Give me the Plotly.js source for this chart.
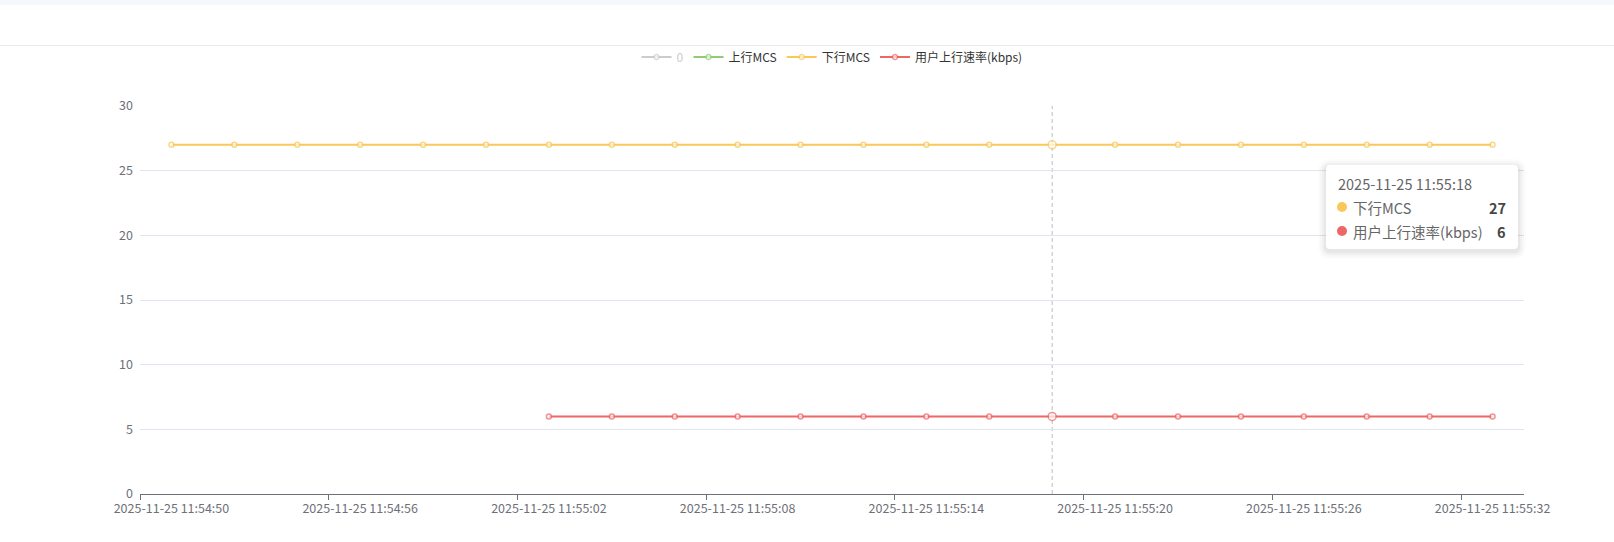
<!DOCTYPE html>
<html>
<head>
<meta charset="utf-8">
<script src="https://cdn.plot.ly/plotly-3.0.1.min.js"></script>
<style>
  html, body { margin: 0; padding: 0; background: #ffffff; }
  #wrap { position: relative; width: 1614px; height: 542px; overflow: hidden; }
  #chart { position: absolute; left: 0; top: 0; width: 1614px; height: 542px; }
  #topband { position: absolute; left: 0; top: 0; width: 1614px; height: 5px; background: #f5f9fd; pointer-events: none; }
  #sep { position: absolute; left: 0; top: 45px; width: 1614px; height: 1px; background: #ebebeb; pointer-events: none; }
</style>
</head>
<body>
<div id="wrap">
  <div id="chart"></div>
  <div id="topband"></div>
  <div id="sep"></div>
</div>
<script>
// ---- data ----
const categories = [
  '2025-11-25 11:54:50', '2025-11-25 11:54:52', '2025-11-25 11:54:54', '2025-11-25 11:54:56',
  '2025-11-25 11:54:58', '2025-11-25 11:55:00', '2025-11-25 11:55:02', '2025-11-25 11:55:04',
  '2025-11-25 11:55:06', '2025-11-25 11:55:08', '2025-11-25 11:55:10', '2025-11-25 11:55:12',
  '2025-11-25 11:55:14', '2025-11-25 11:55:16', '2025-11-25 11:55:18', '2025-11-25 11:55:20',
  '2025-11-25 11:55:22', '2025-11-25 11:55:24', '2025-11-25 11:55:26', '2025-11-25 11:55:28',
  '2025-11-25 11:55:30', '2025-11-25 11:55:32'
];
const seriesNames = ['0', '上行MCS', '下行MCS', '用户上行速率(kbps)'];
const zeroSeries = [null, null, null, null, null, null, null, null, null, null, null,
                    null, null, null, null, null, null, null, null, null, null, null];
const upMCS = [null, null, null, null, null, null, null, null, null, null, null,
               null, null, null, null, null, null, null, null, null, null, null];
const downMCS = [27, 27, 27, 27, 27, 27, 27, 27, 27, 27, 27,
                 27, 27, 27, 27, 27, 27, 27, 27, 27, 27, 27];
const upRate = [null, null, null, null, null, null, 6, 6, 6, 6, 6,
                6, 6, 6, 6, 6, 6, 6, 6, 6, 6, 6];
const yTicks = [0, 5, 10, 15, 20, 25, 30];
const hoverCategory = '2025-11-25 11:55:18';

// ---- style ----
const colors = ['#cccccc', '#91cc75', '#fac858', '#ee6666'];
const FONT = '"Microsoft YaHei", "Noto Sans CJK SC", "Noto Sans", sans-serif';
const W = 1614, H = 542;
const M = { l: 140, r: 90, t: 106, b: 48 };
const PW = W - M.l - M.r, PH = H - M.t - M.b;
const px2x = p => (p - M.l) / PW;
const py2y = p => (H - M.b - p) / PH;
const hoverIndex = categories.indexOf(hoverCategory);

function makeTrace(name, ys, color) {
  return {
    type: 'scatter', mode: 'lines+markers', name: name,
    x: categories, y: ys,
    line: { color: color, width: 2 },
    marker: {
      symbol: 'circle', color: '#ffffff',
      size: ys.map((v, i) => i === hoverIndex ? 8 : 5),
      line: { color: color, width: 1.5 }
    },
    connectgaps: false,
    hoverinfo: 'skip'
  };
}

const traces = [
  makeTrace('<span style="color:#cccccc">' + seriesNames[0] + '</span>', zeroSeries, colors[0]),
  makeTrace(seriesNames[1], upMCS, colors[1]),
  makeTrace(seriesNames[2], downMCS, colors[2]),
  makeTrace(seriesNames[3], upRate, colors[3])
];

// rounded rectangle path in paper coordinates (from pixel box)
function roundRect(l, t, r, b, rad) {
  const X = px2x, Y = py2y;
  return 'M ' + X(l + rad) + ' ' + Y(t) +
    ' L ' + X(r - rad) + ' ' + Y(t) +
    ' Q ' + X(r) + ' ' + Y(t) + ' ' + X(r) + ' ' + Y(t + rad) +
    ' L ' + X(r) + ' ' + Y(b - rad) +
    ' Q ' + X(r) + ' ' + Y(b) + ' ' + X(r - rad) + ' ' + Y(b) +
    ' L ' + X(l + rad) + ' ' + Y(b) +
    ' Q ' + X(l) + ' ' + Y(b) + ' ' + X(l) + ' ' + Y(b - rad) +
    ' L ' + X(l) + ' ' + Y(t + rad) +
    ' Q ' + X(l) + ' ' + Y(t) + ' ' + X(l + rad) + ' ' + Y(t) + ' Z';
}

// tooltip (static recreation of the hover box)
const tipL = 1326, tipR = 1518, tipT = 165, tipB = 249;
const shapes = [
  { type: 'line', xref: 'x', yref: 'paper', x0: hoverIndex, x1: hoverIndex, y0: 0, y1: 1,
    line: { color: '#bdbdbd', width: 1, dash: '4px,3px' }, layer: 'below' }
];
// soft shadow layers
[8, 6, 4, 2].forEach((d, k) => {
  shapes.push({ type: 'path', xref: 'paper', yref: 'paper',
    path: roundRect(tipL - d, tipT - d + 2, tipR + d, tipB + d + 2, 4 + d),
    fillcolor: 'rgba(0,0,0,' + (0.01 + k * 0.008) + ')', line: { width: 0 }, layer: 'above' });
});
shapes.push({ type: 'path', xref: 'paper', yref: 'paper',
  path: roundRect(tipL, tipT, tipR, tipB, 4),
  fillcolor: '#ffffff', line: { width: 0 }, layer: 'above' });

const rows = [
  { name: seriesNames[2], value: downMCS[hoverIndex], color: colors[2], y: 207 },
  { name: seriesNames[3], value: upRate[hoverIndex], color: colors[3], y: 231 }
];
const TIPFONT = 14.5;
const annotations = [
  { xref: 'paper', yref: 'paper', x: px2x(1336), y: py2y(183), xanchor: 'left', yanchor: 'middle',
    text: hoverCategory, showarrow: false, font: { family: FONT, size: TIPFONT, color: '#666666' } }
];
rows.forEach(r => {
  shapes.push({ type: 'circle', xref: 'paper', yref: 'paper', xsizemode: 'pixel', ysizemode: 'pixel',
    xanchor: px2x(1342), yanchor: py2y(r.y), x0: -5, x1: 5, y0: -5, y1: 5,
    fillcolor: r.color, line: { width: 0 }, layer: 'above' });
  annotations.push({ xref: 'paper', yref: 'paper', x: px2x(1351), y: py2y(r.y), xanchor: 'left', yanchor: 'middle',
    text: r.name, showarrow: false, font: { family: FONT, size: TIPFONT, color: '#666666' } });
  annotations.push({ xref: 'paper', yref: 'paper', x: px2x(1508), y: py2y(r.y), xanchor: 'right', yanchor: 'middle',
    text: '<b>' + r.value + '</b>', showarrow: false, font: { family: FONT, size: TIPFONT, color: '#464646' } });
});

const layout = {
  width: W, height: H,
  margin: M,
  paper_bgcolor: 'rgba(0,0,0,0)', plot_bgcolor: 'rgba(0,0,0,0)',
  font: { family: FONT, size: 12, color: '#6e7079' },
  showlegend: true,
  legend: {
    orientation: 'h', x: 0.5, xanchor: 'center', y: py2y(57), yanchor: 'middle',
    font: { family: FONT, size: 12, color: '#333333' },
    itemwidth: 30, itemclick: false, itemdoubleclick: false
  },
  xaxis: {
    type: 'category', range: [-0.5, categories.length - 0.5],
    tickmode: 'linear', tick0: 0, dtick: 3, tickson: 'boundaries',
    tickangle: 0, automargin: false, ticklabelstandoff: 3,
    ticks: 'outside', ticklen: 5, tickcolor: '#6e7079', tickwidth: 1,
    showline: true, linecolor: '#6e7079', linewidth: 1,
    showgrid: false, zeroline: false,
    tickfont: { family: FONT, size: 12.5, color: '#6e7079' },
    fixedrange: true
  },
  yaxis: {
    range: [0, 30], tickmode: 'array', tickvals: yTicks,
    showgrid: true, gridcolor: '#e0e6f1', gridwidth: 1,
    zeroline: false, showline: false, ticks: '',
    ticklabelstandoff: 6, automargin: false,
    tickfont: { family: FONT, size: 12.5, color: '#6e7079' },
    fixedrange: true
  },
  shapes: shapes,
  annotations: annotations,
  hovermode: false
};

Plotly.newPlot('chart', traces, layout, { displayModeBar: false, staticPlot: true });
</script>
</body>
</html>
